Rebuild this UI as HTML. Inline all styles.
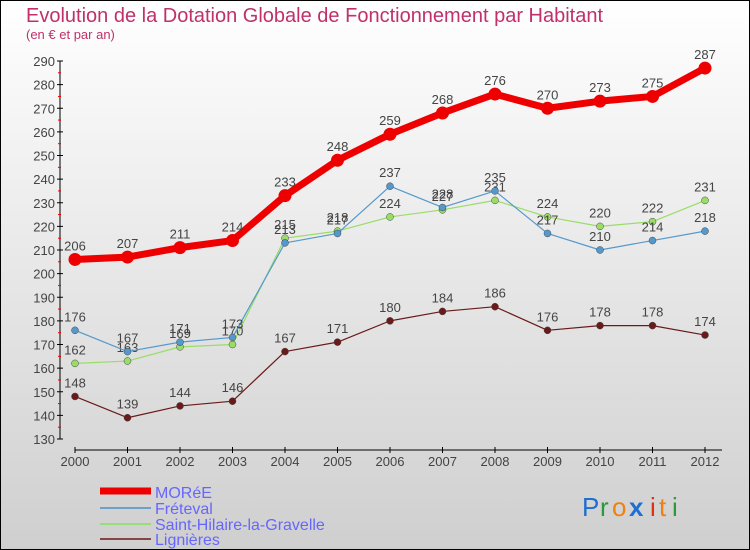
<!DOCTYPE html>
<html><head><meta charset="utf-8"><style>
body{margin:0}
svg{display:block;font-family:"Liberation Sans",sans-serif}
</style></head><body>
<svg width="750" height="550" viewBox="0 0 750 550" id="chart">
<defs><linearGradient id="bg" x1="0" y1="0" x2="0" y2="1"><stop offset="0" stop-color="#ffffff"/><stop offset="1" stop-color="#cfcfcf"/></linearGradient></defs>
<rect x="0.5" y="0.5" width="749" height="549" fill="url(#bg)" stroke="#000"/>
<text x="26" y="22" font-size="20" fill="#c0306a">Evolution de la Dotation Globale de Fonctionnement par Habitant</text>
<text x="26" y="39" font-size="13" fill="#c0306a">(en € et par an)</text>
<g id="axes"></g><g id="series"></g>
<g>
<line x1="100" y1="491" x2="151" y2="491" stroke="#e00" stroke-width="7"/>
<text x="155" y="498" font-size="16" fill="#6666ff">MORéE</text>
<line x1="100" y1="508" x2="151" y2="508" stroke="#6fa0cc" stroke-width="2"/>
<text x="155" y="514" font-size="16" fill="#6666ff">Fréteval</text>
<line x1="100" y1="524" x2="151" y2="524" stroke="#99dd77" stroke-width="2"/>
<text x="155" y="530" font-size="16" fill="#6666ff">Saint-Hilaire-la-Gravelle</text>
<line x1="100" y1="539" x2="151" y2="539" stroke="#884444" stroke-width="2"/>
<text x="155" y="545" font-size="16" fill="#6666ff">Lignières</text>
</g>
<g font-size="26">
<text x="582" y="516" fill="#1e6fd0">P</text><text x="600" y="516" fill="#2a9a3a">r</text><text x="612" y="516" fill="#f08010">o</text><text x="629" y="516" fill="#1e6fd0" font-weight="bold">x</text><text x="650" y="516" fill="#e03010">i</text><text x="659" y="516" fill="#f08010">t</text><text x="672" y="516" fill="#2a9a3a">i</text>
</g>
</svg>
<script>
const years=["2000","2001","2002","2003","2004","2005","2006","2007","2008","2009","2010","2011","2012"];
const moree=[206,207,211,214,233,248,259,268,276,270,273,275,287];
const freteval=[176,167,171,173,213,217,237,228,235,217,210,214,218];
const saintHilaire=[162,163,169,170,215,218,224,227,231,224,220,222,231];
const lignieres=[148,139,144,146,167,171,180,184,186,176,178,178,174];
const yTicks=[130,140,150,160,170,180,190,200,210,220,230,240,250,260,270,280,290];
const NS="http://www.w3.org/2000/svg";
function X(i){return 75+i*52.5;}
function Y(v){return 439-(v-130)*(378/160);}
function mk(t,a,p){const e=document.createElementNS(NS,t);for(const k in a)e.setAttribute(k,a[k]);p.appendChild(e);return e;}
const ax=document.getElementById('axes');
const yl=mk('line',{x1:60,y1:Y(290),x2:60,y2:Y(130),stroke:'#000'},ax);


yTicks.forEach(v=>{
 mk('line',{x1:57,y1:Y(v),x2:63,y2:Y(v),stroke:'#000'},ax);
 if(v<290) mk('line',{x1:58,y1:Y(v+5),x2:61,y2:Y(v+5),stroke:'#e00'},ax);
 const t=mk('text',{x:55,y:Y(v)+5,'text-anchor':'end','font-size':13,fill:'#444'},ax);t.textContent=v;
 
 
});
const xl=mk('line',{x1:75,y1:450,x2:722,y2:450,stroke:'#000'},ax);


years.forEach((y,i)=>{
 mk('line',{x1:X(i),y1:447,x2:X(i),y2:453,stroke:'#000'},ax);
 const t=mk('text',{x:X(i),y:466,'text-anchor':'middle','font-size':13,fill:'#444'},ax);t.textContent=y;
 
 
});
const sg=document.getElementById('series');
function series(vals,color,w,r,name){
 const g=mk('g',{},sg);
 
 
 mk('polyline',{points:vals.map((v,i)=>X(i)+','+Y(v)).join(' '),fill:'none',stroke:color,'stroke-width':w,'stroke-linejoin':'round'},g);
 vals.forEach((v,i)=>{
  const c=mk('circle',{cx:X(i),cy:Y(v),r:r,fill:color,stroke:'#444','stroke-width':r>5?0:0.5},g);
  
  
  const t=mk('text',{x:X(i),y:Y(v)-9,'text-anchor':'middle','font-size':13,fill:'#444'},g);t.textContent=v;
  
  
 });
}
series(lignieres,'#6b1a1a',1.2,3.5,'series-lignieres');
series(saintHilaire,'#99dd66',1.2,3.5,'series-saint-hilaire');
series(freteval,'#5599cc',1.2,3.5,'series-freteval');
series(moree,'#ee0000',7,6.5,'series-moree');
</script>
</body></html>
